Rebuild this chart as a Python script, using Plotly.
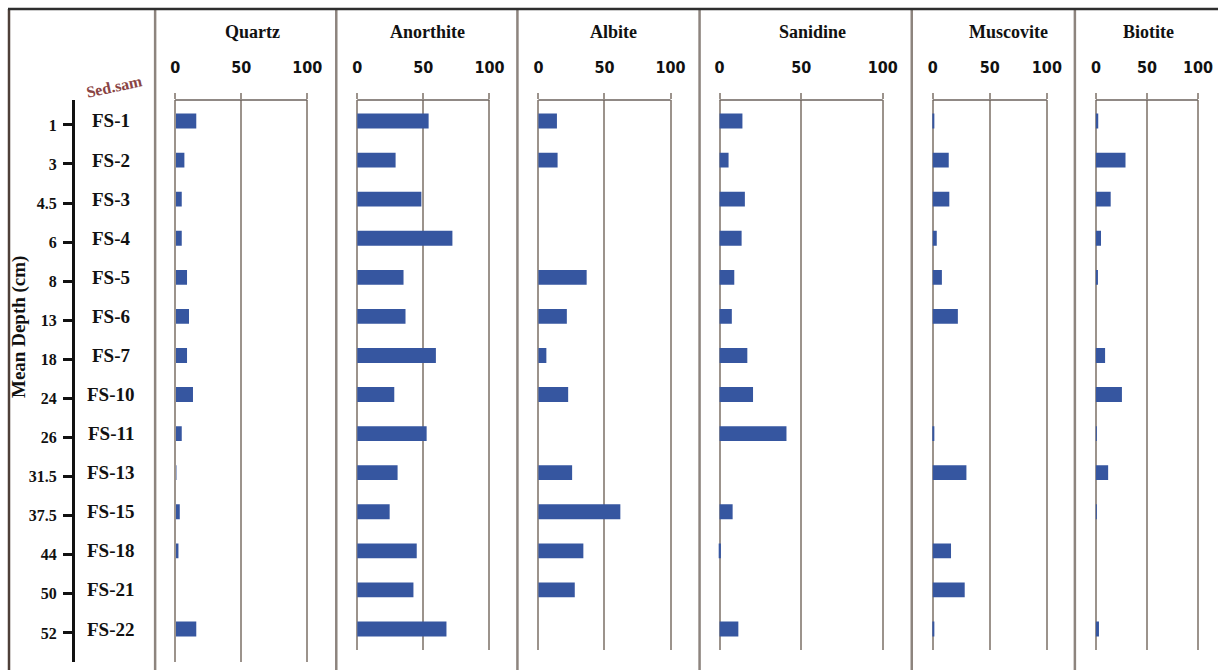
import plotly.graph_objects as go

# Sediment samples (top to bottom) and their mean depths
samples = ["FS-1", "FS-2", "FS-3", "FS-4", "FS-5", "FS-6", "FS-7",
           "FS-10", "FS-11", "FS-13", "FS-15", "FS-18", "FS-21", "FS-22"]
depths = ["1", "3", "4.5", "6", "8", "13", "18", "24", "26", "31.5",
          "37.5", "44", "50", "52"]

# Mineral abundances (%) per sample
quartz = [16, 7, 5, 5, 9, 10.5, 9, 13.5, 5, 1, 3.5, 2.5, 0, 16]
anorthite = [54, 29, 48.5, 72, 35, 36.5, 59.5, 28, 52.5, 30.5, 24.5, 45, 42.5, 67.5]
albite = [14, 14.5, 0, 0, 36.5, 21.5, 6, 22.5, 0, 25.5, 62, 34, 27.5, 0]
sanidine = [14, 5.5, 15.5, 13.5, 9, 7.5, 17, 20.5, 41, 0, 8, 0.8, 0, 11.5]
muscovite = [0.6, 14, 14.5, 3.5, 8, 22, 0, 0, 0.6, 29.5, 0, 16, 28, 0.6]
biotite = [2.3, 29, 14.5, 5, 2, 0, 9, 25.5, 0.7, 12, 0.7, 0, 0, 3]

minerals = ["Quartz", "Anorthite", "Albite", "Sanidine", "Muscovite", "Biotite"]
values = [quartz, anorthite, albite, sanidine, muscovite, biotite]
tick_vals = [0, 50, 100]

# layout is expressed in a 1218 x 670 design grid
GX, H = 1218, 670
FIG_W = 1233
X_SHIFT = 2


def px(x):
    return (x - X_SHIFT) / GX


def py(y):
    return 1 - y / H


# design-grid x of the 0 and 100 gridlines for each panel, and header centre
panel_px = [(175, 307, 252), (357, 489, 427), (538, 670, 613),
            (719, 882, 812), (932, 1046, 1008), (1095, 1197, 1148)]
separators = [155, 336, 517, 699, 911, 1074]

BAR = "#3656a0"
GRID = "#9c938c"
SERIF = "Liberation Serif, Times New Roman, serif"
SANS = "Liberation Sans Narrow, DejaVu Sans Condensed, Arial Narrow, Liberation Sans, sans-serif"

PLOT_TOP, PLOT_BOT = 100, 650
ROW0, ROW_STEP = 121, (629 - 121) / 13
cat_top = -(ROW0 - PLOT_TOP) / ROW_STEP
cat_bot = 13 + (PLOT_BOT - (ROW0 + 13 * ROW_STEP)) / ROW_STEP

fig = go.Figure()
layout = dict(
    width=FIG_W, height=H, autosize=False,
    margin=dict(l=0, r=0, t=0, b=0),
    paper_bgcolor="white", plot_bgcolor="rgba(0,0,0,0)",
    showlegend=False, bargap=0.62,
    yaxis=dict(domain=[py(PLOT_BOT), py(PLOT_TOP)], type="category",
               categoryarray=samples, range=[cat_bot, cat_top],
               showticklabels=False, showgrid=False, zeroline=False,
               showline=False, ticks=""),
)

shapes = []
annotations = []
pad = 3
for k, (name, vals, (p0, p100, tc)) in enumerate(zip(minerals, values, panel_px)):
    ax = "x" if k == 0 else f"x{k + 1}"
    scale = (p100 - p0) / 100
    layout["xaxis" if k == 0 else f"xaxis{k + 1}"] = dict(
        domain=[px(p0 - pad * scale), min(1, px(p100 + pad * scale))],
        range=[-pad, 100 + pad], anchor="y", side="top",
        tickvals=tick_vals, ticktext=[str(v) for v in tick_vals],
        tickfont=dict(family=SANS, size=16, color="#111", weight="bold"),
        ticks="outside", ticklen=6, tickwidth=2, tickcolor=GRID,
        ticklabelstandoff=14,
        showgrid=True, gridcolor=GRID, gridwidth=2,
        zeroline=False, showline=False, fixedrange=True,
    )
    fig.add_trace(go.Bar(x=vals, y=samples, orientation="h", xaxis=ax, yaxis="y",
                         marker=dict(color=BAR, line=dict(width=0)),
                         hovertemplate=name + " %{y}: %{x}<extra></extra>"))
    # top axis line spanning 0-100
    shapes.append(dict(type="line", xref=ax, yref="paper", x0=0, x1=100,
                       y0=py(PLOT_TOP), y1=py(PLOT_TOP),
                       line=dict(color="#6b625c", width=1.5)))
    annotations.append(dict(text=name, xref="paper", yref="paper",
                            x=px(tc), y=py(32), showarrow=False,
                            xanchor="center", yanchor="middle",
                            font=dict(family=SERIF, size=18, color="#111", weight="bold")))

# depth axis drawn on its own y axis, sharing the row positions
depth_bot = cat_top + (662 - PLOT_TOP) / ROW_STEP
layout["yaxis2"] = dict(
    domain=[py(662), py(PLOT_TOP)], anchor="free", position=px(73),
    range=[depth_bot, cat_top], autorange=False,
    tickvals=[i + 0.1 for i in range(len(depths))], ticktext=depths,
    tickfont=dict(family=SERIF, size=16, color="#111", weight="bold"),
    ticks="outside", ticklen=9, tickwidth=3, tickcolor="#111",
    ticklabelstandoff=3,
    showline=True, linecolor="#111", linewidth=3,
    showgrid=False, zeroline=False, fixedrange=True,
)
fig.add_trace(go.Scatter(x=[], y=[], xaxis="x", yaxis="y2", showlegend=False,
                         hoverinfo="skip"))

# sample names
for s in samples:
    annotations.append(dict(text=s, xref="paper", yref="y", x=px(111), y=s,
                            showarrow=False, xanchor="center", yanchor="middle",
                            font=dict(family=SERIF, size=19, color="#111", weight="bold")))

annotations.append(dict(text="Sed.sam", xref="paper", yref="paper",
                        x=px(114), y=py(87), showarrow=False, textangle=-12,
                        xanchor="center", yanchor="middle",
                        font=dict(family=SERIF, size=16, color="#8a4444", weight="bold")))
annotations.append(dict(text="Mean Depth (cm)", xref="paper", yref="paper",
                        x=px(19), y=py(327), showarrow=False, textangle=-90,
                        xanchor="center", yanchor="middle",
                        font=dict(family=SERIF, size=19, color="#111", weight="bold")))

# frame and panel separators
for sx in separators:
    shapes.append(dict(type="line", xref="paper", yref="paper",
                       x0=px(sx), x1=px(sx), y0=py(8), y1=0,
                       line=dict(color="#8d847e", width=2.5)))
shapes.append(dict(type="line", xref="paper", yref="paper",
                   x0=px(9), x1=px(9), y0=py(9), y1=0,
                   line=dict(color="#4e4039", width=2.5)))
shapes.append(dict(type="line", xref="paper", yref="paper",
                   x0=px(8), x1=1, y0=py(9), y1=py(9),
                   line=dict(color="#2e2e2e", width=2.5)))

layout["shapes"] = shapes
layout["annotations"] = annotations
fig.update_layout(**layout)

fig.write_html("out.html", config={"responsive": False, "displayModeBar": False})
